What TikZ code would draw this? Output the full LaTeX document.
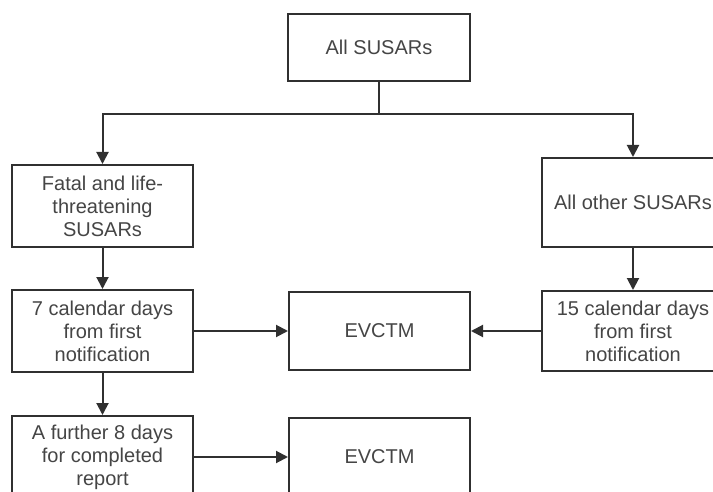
\documentclass[tikz,border=0pt]{standalone}
\usepackage{fontspec}
\setmainfont{Liberation Sans}
\usetikzlibrary{arrows.meta}
\definecolor{linec}{HTML}{303030}
\definecolor{textc}{HTML}{454545}
\tikzset{
  box/.style={draw=linec, line width=2pt, rectangle, fill=white, text=textc,
    font=\fontsize{20}{23}\selectfont, align=center, inner sep=0pt},
  arr/.style={draw=linec, line width=2pt, -{Triangle[length=12pt,width=12pt]}},
  ln/.style={draw=linec, line width=2pt}
}
\begin{document}
\begin{tikzpicture}[x=1pt,y=-1pt]
\clip (0,0) rectangle (713,492);
\fill[white] (0,0) rectangle (713,492);
\node[box, minimum width=182pt, minimum height=67pt] (top) at (379,47.5) {All SUSARs};
\node[box, minimum width=181pt, minimum height=82pt] (fatal) at (102.5,206) {Fatal and life-\\threatening\\SUSARs};
\node[box, minimum width=182pt, minimum height=89pt] (other) at (633,202.5) {All other SUSARs};
\node[box, minimum width=181pt, minimum height=82pt] (cal7) at (102.5,331) {7 calendar days\\from first\\notification};
\node[box, minimum width=181pt, minimum height=78pt] (ev1) at (379.5,331) {EVCTM};
\node[box, minimum width=182pt, minimum height=80pt] (cal15) at (633,331) {15 calendar days\\from first\\notification};
\node[box, minimum width=181pt, minimum height=82pt] (d8) at (102.5,457) {A further 8 days\\for completed\\report};
\node[box, minimum width=181pt, minimum height=78pt] (ev2) at (379.5,457) {EVCTM};
\coordinate (jn) at (379,114);
\draw[ln] (top.south) -- (jn);
\draw[arr] (jn) -| (fatal.north);
\draw[arr] (jn) -| (other.north);
\draw[arr] (fatal.south) -- (cal7.north);
\draw[arr] (other.south) -- (cal15.north);
\draw[arr] (cal7.east) -- (ev1.west);
\draw[arr] (cal15.west) -- (ev1.east);
\draw[arr] (cal7.south) -- (d8.north);
\draw[arr] (d8.east) -- (ev2.west);
\end{tikzpicture}
\end{document}
